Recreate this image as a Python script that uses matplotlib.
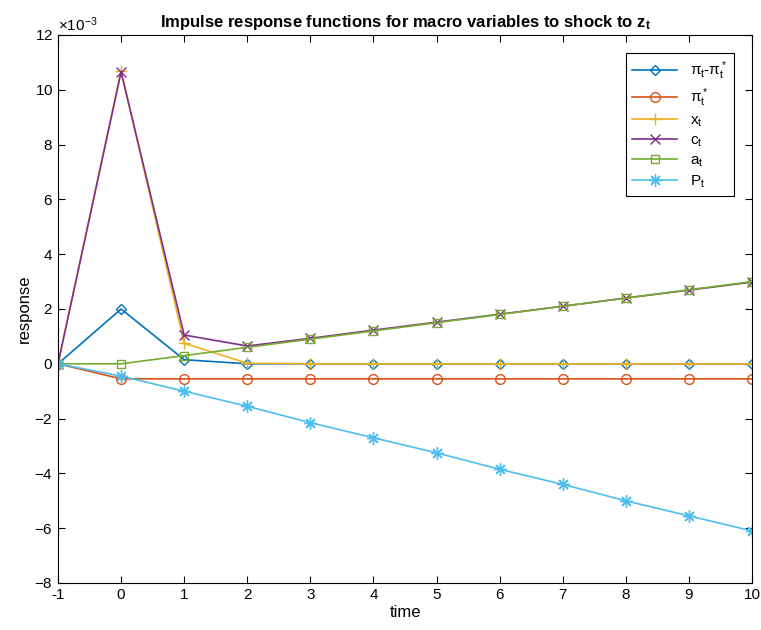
import numpy as np
import matplotlib.pyplot as plt
import matplotlib.ticker as mticker

plt.rcParams['font.family'] = ['Liberation Sans', 'DejaVu Sans']
plt.rcParams['mathtext.fontset'] = 'custom'
plt.rcParams['mathtext.rm'] = 'Liberation Sans'
plt.rcParams['mathtext.it'] = 'Liberation Sans'
plt.rcParams['mathtext.bf'] = 'Liberation Sans:bold'
plt.rcParams['axes.unicode_minus'] = False

# data (units of 1e-3)
time = np.arange(-1, 11)
pi_gap = [0, 2.0, 0.15, 0.0, 0, 0, 0, 0, 0, 0, 0, 0]
pi_star = [0, -0.55, -0.55, -0.55, -0.55, -0.55, -0.55, -0.55, -0.55, -0.55, -0.55, -0.55]
x_t = [0, 10.7, 0.75, 0.02, 0, 0, 0, 0, 0, 0, 0, 0]
c_t = [0, 10.65, 1.05, 0.65, 0.93, 1.23, 1.52, 1.81, 2.1, 2.4, 2.69, 2.98]
a_t = [0, 0, 0.3, 0.6, 0.9, 1.2, 1.5, 1.8, 2.1, 2.4, 2.7, 3.0]
P_t = [0, -0.45, -1.0, -1.55, -2.15, -2.7, -3.25, -3.85, -4.4, -5.0, -5.55, -6.1]

series = [
    (pi_gap, r'$\pi_t$-$\pi^*_t$', 'D', 5.5, (0, 0.447, 0.741)),
    (pi_star, r'$\pi^*_t$', 'o', 7, (0.85, 0.325, 0.098)),
    (x_t, r'x$_t$', '+', 8, (0.929, 0.694, 0.125)),
    (c_t, r'c$_t$', 'x', 7, (0.494, 0.184, 0.556)),
    (a_t, r'a$_t$', 's', 6, (0.466, 0.674, 0.188)),
    (P_t, r'P$_t$', (8, 2, 0), 9, (0.301, 0.745, 0.933)),
]

fig = plt.figure(figsize=(7.61, 6.30), dpi=100)
ax = fig.add_axes([58 / 761, 1 - 583 / 630, (752 - 58) / 761, (583 - 35) / 630])

for vals, lab, mk, ms, col in series:
    ax.plot(time, np.array(vals) * 1e-3, color=col, marker=mk, markersize=ms,
            markerfacecolor='none', markeredgewidth=1.0, linewidth=1.2, label=lab)

ax.set_xlim(-1, 10)
ax.set_ylim(-8e-3, 12e-3)
ax.set_xticks(np.arange(-1, 11))
ax.set_yticks(np.arange(-8, 13, 2) * 1e-3)
fmt = mticker.ScalarFormatter(useMathText=True)
fmt.set_powerlimits((-3, -3))
ax.yaxis.set_major_formatter(fmt)
ax.yaxis.get_offset_text().set_fontsize(11)

ax.tick_params(direction='in', top=True, right=True, labelsize=11, length=5, width=0.8)
for s in ax.spines.values():
    s.set_linewidth(0.8)

ax.set_xlabel('time', fontsize=12, labelpad=2)
ax.set_ylabel('response', fontsize=12, labelpad=2)
ax.set_title(r'Impulse response functions for macro variables to shock to $\mathbf{z_t}$',
             fontsize=12, fontweight='bold', pad=6)

leg = ax.legend(loc='upper right', fontsize=11, fancybox=False, edgecolor='black',
                framealpha=1, borderaxespad=1.2, handlelength=3.0, labelspacing=0.3)
leg.get_frame().set_linewidth(0.8)

fig.savefig('out.png', dpi=100)
